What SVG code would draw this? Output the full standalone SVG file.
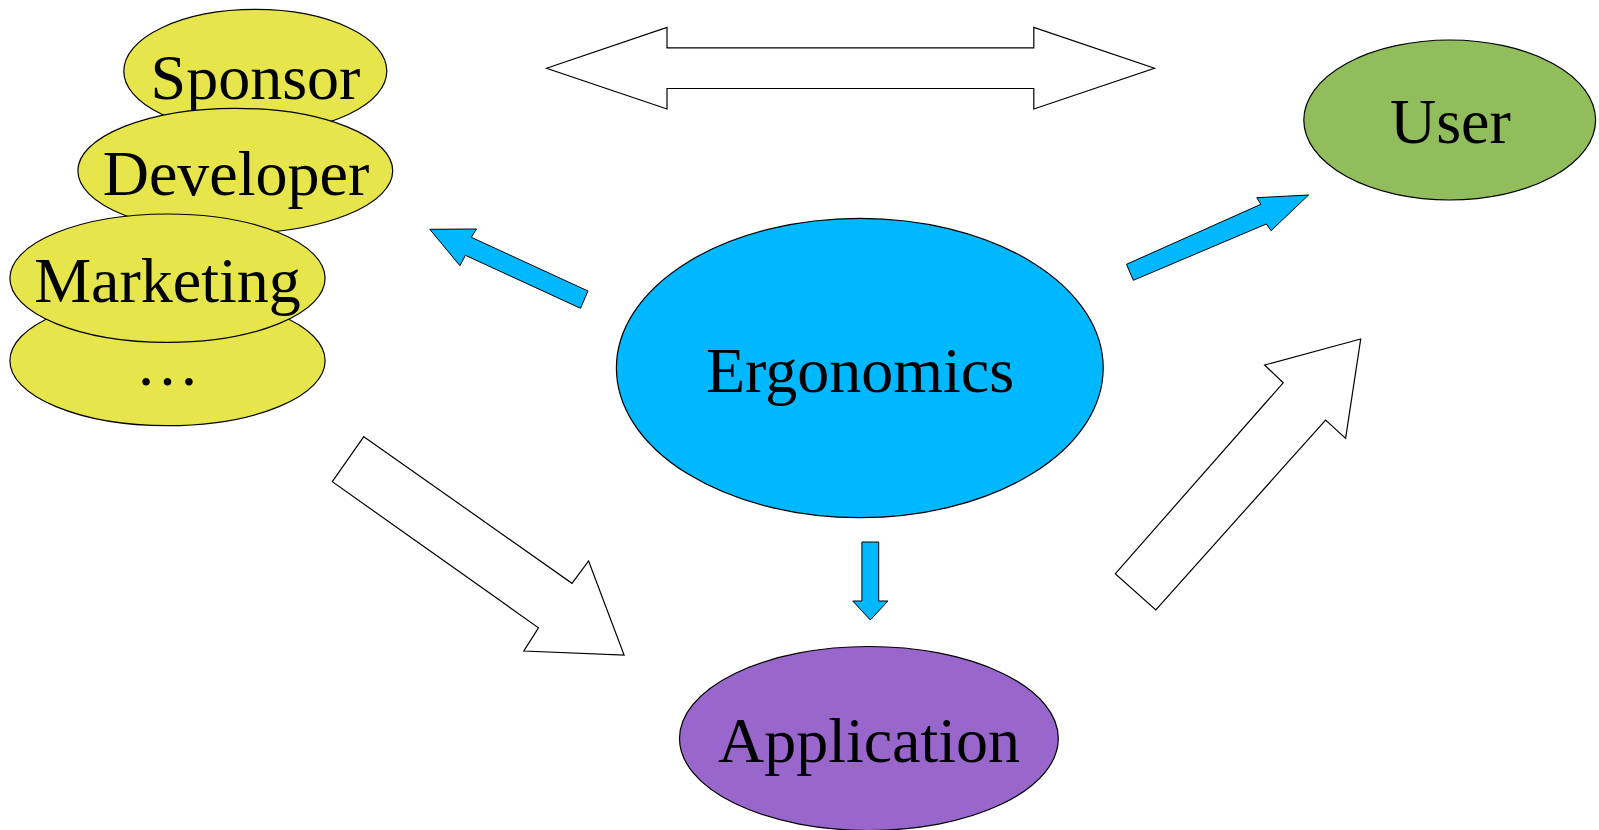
<svg xmlns="http://www.w3.org/2000/svg" width="1599" height="830" viewBox="0 0 1599 830">
<style>
.n{stroke:#000;stroke-width:1.2}
.y{fill:#e6e64c}
.b{fill:#00b8ff}
.g{fill:#92bd5d}
.p{fill:#9966cc}
.t{font-family:"Liberation Serif","Times New Roman",serif;font-size:64px;fill:#000;text-anchor:middle}
.w{fill:#fff;stroke:#000;stroke-width:1.2;stroke-linejoin:miter}
.ba{fill:#00b8ff;stroke:#000;stroke-width:1}
</style>
<rect width="1599" height="830" fill="#fff"/>
<g id="sponsor"><ellipse class="n y" cx="255.3" cy="71" rx="131.5" ry="61.6"/><text class="t" x="255.5" y="98.5">Sponsor</text></g>
<g id="developer"><ellipse class="n y" cx="235.3" cy="170.8" rx="157.4" ry="62.5"/><text class="t" x="236" y="195">Developer</text></g>
<g id="more"><ellipse class="n y" cx="167.5" cy="360.7" rx="157.6" ry="65"/><text class="t" x="167.6" y="385">…</text></g>
<g id="marketing"><ellipse class="n y" cx="167.5" cy="278.2" rx="157.6" ry="64.2"/><text class="t" x="167.5" y="301.7">Marketing</text></g>
<g id="ergonomics"><ellipse class="n b" cx="859.8" cy="368" rx="243.4" ry="149.7"/><text class="t" x="860" y="391.7">Ergonomics</text></g>
<g id="user"><ellipse class="n g" cx="1449.7" cy="120" rx="145.9" ry="80"/><text class="t" x="1450.4" y="143.3">User</text></g>
<g id="application"><ellipse class="n p" cx="868.9" cy="738.5" rx="189.4" ry="92"/><text class="t" x="869" y="761.7">Application</text></g>
<g id="connectors">
<polygon class="w" points="546.5,68.3 667,27.4 667,47.8 1033.8,47.8 1033.8,27.4 1154.5,68.3 1033.8,109 1033.8,88.5 667,88.5 667,109"/>
<polygon class="ba" points="1126.5,264.3 1260.9,204.3 1256.8,197.7 1308.6,195 1271.1,230.7 1266.3,224 1133.4,280.3"/>
<polygon class="ba" points="588,291 471.3,237.3 476.5,229 429.8,229.3 459.9,265.7 465.4,255.3 580.5,308.3"/>
<polygon class="ba" points="861.9,542 878.7,542 878.7,601 887.9,601 870.3,620 852.8,601 861.9,601"/>
<polygon class="w" points="363.8,436.7 572,583.3 588.6,561 624.1,655 523.8,651 538.5,627.8 332.3,481.7"/>
<polygon class="w" points="1115.2,573.8 1283.2,382.8 1264.6,365 1360.7,339 1345.6,438.4 1325.6,420 1155.8,610"/>
</g>
</svg>
